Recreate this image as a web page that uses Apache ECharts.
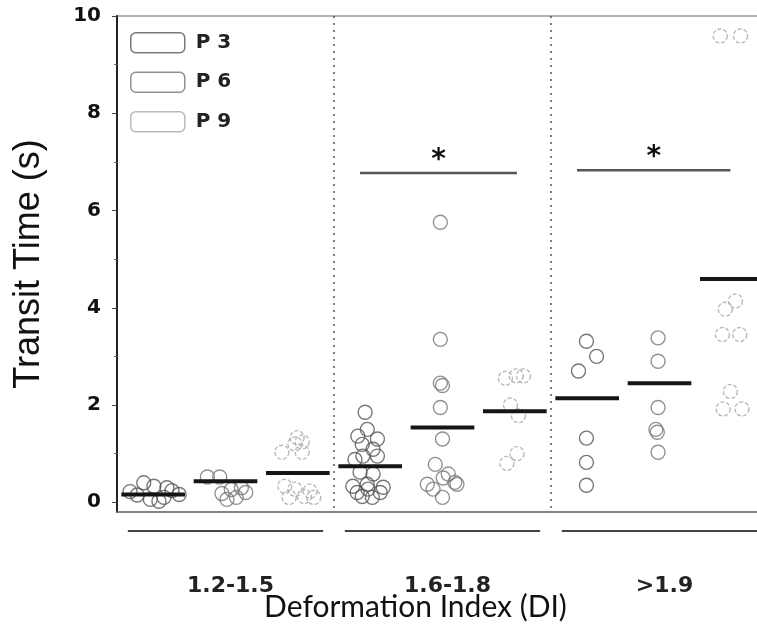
<!DOCTYPE html>
<html>
<head>
<meta charset="utf-8">
<script src="https://cdn.jsdelivr.net/npm/echarts@6/dist/echarts.min.js"></script>
<style>html,body{margin:0;padding:0;background:#fff}#chart{width:757px;height:629px}</style>
</head>
<body>
<div id="chart"></div>
<script>
// 分组 (DI) 与子组
var groups = ['1.2-1.5', '1.6-1.8', '>1.9'];
var passages = ['P 3', 'P 6', 'P 9'];
var yTicks = [0, 2, 4, 6, 8, 10];
var yMinorTicks = [1, 3, 5, 7, 9];

// 每个点 [x位置, 通过时间(s)]
var p3Points = [
  [0.37,0.40],[0.51,0.33],[0.69,0.30],[0.18,0.22],[0.76,0.24],[0.46,0.06],[0.58,0.02],[0.28,0.15],[0.65,0.10],[0.86,0.16],
  [3.43,1.85],[3.46,1.50],[3.33,1.36],[3.60,1.30],[3.39,1.19],[3.54,1.09],[3.40,0.95],[3.29,0.88],[3.60,0.95],[3.36,0.62],
  [3.54,0.58],[3.26,0.33],[3.46,0.37],[3.68,0.31],[3.39,0.12],[3.53,0.10],[3.64,0.20],[3.32,0.20],[3.47,0.27],
  [6.49,3.31],[6.63,3.00],[6.38,2.70],[6.49,1.32],[6.49,0.82],[6.49,0.35]
];
var p6Points = [
  [1.25,0.52],[1.42,0.52],[1.45,0.18],[1.58,0.26],[1.72,0.30],[1.52,0.06],[1.65,0.10],[1.78,0.20],
  [4.47,5.76],[4.47,3.35],[4.47,2.45],[4.50,2.40],[4.47,1.95],[4.50,1.30],[4.40,0.78],[4.58,0.58],[4.67,0.41],
  [4.51,0.50],[4.29,0.37],[4.37,0.27],[4.50,0.10],[4.70,0.37],
  [7.48,3.38],[7.48,2.90],[7.48,1.95],[7.45,1.50],[7.47,1.44],[7.48,1.03]
];
var p9Points = [
  [2.49,1.33],[2.46,1.20],[2.56,1.24],[2.28,1.03],[2.56,1.03],[2.32,0.33],[2.46,0.27],[2.67,0.23],[2.38,0.10],[2.59,0.12],[2.72,0.10],
  [5.37,2.55],[5.52,2.60],[5.62,2.60],[5.44,2.00],[5.55,1.78],[5.53,1.00],[5.39,0.80],
  [8.34,9.59],[8.62,9.59],[8.55,4.14],[8.41,3.97],[8.37,3.45],[8.61,3.45],[8.48,2.28],[8.38,1.92],[8.64,1.92]
];

// 各子组均值横线 (1.2-1.5: P3,P6,P9, 1.6-1.8: ..., >1.9: ...)
var meanLines = [0.16, 0.43, 0.60, 0.74, 1.54, 1.87, 2.14, 2.45, 4.59];

// 显著性标记 [起点x, 终点x, 高度]
var sigBars = [[3.36, 5.53, 6.77], [6.36, 8.48, 6.83]];

var circleColors = ['#555', '#767676', '#a8a8a8'];
var allPoints = [p3Points, p6Points, p9Points];

var myChart = echarts.init(document.getElementById('chart'));

var series = passages.map(function (name, i) {
  return {
    name: name,
    type: 'scatter',
    data: allPoints[i],
    symbol: 'circle',
    symbolSize: 14,
    itemStyle: {
      color: 'rgba(255,255,255,0)',
      borderColor: circleColors[i],
      borderWidth: 1.4,
      borderType: i == 2 ? [4, 2] : 'solid'
    },
    emphasis: {disabled: true},
    z: 3
  };
});

// 均值横线
series.push({
  type: 'custom',
  data: meanLines.map(function (v, i) { return [i + 0.5, v]; }),
  renderItem: function (params, api) {
    var a = api.coord([api.value(0) - 0.44, api.value(1)]);
    var b = api.coord([api.value(0) + 0.44, api.value(1)]);
    return {
      type: 'line',
      shape: {x1: a[0], y1: a[1], x2: b[0], y2: b[1]},
      style: {stroke: '#151515', lineWidth: 4}
    };
  },
  z: 5
});

// 显著性横线和星号
series.push({
  type: 'custom',
  data: sigBars,
  encode: {x: [0, 1], y: 2},
  renderItem: function (params, api) {
    var a = api.coord([api.value(0), api.value(2)]);
    var b = api.coord([api.value(1), api.value(2)]);
    return {
      type: 'group',
      children: [
        {type: 'line', shape: {x1: a[0], y1: a[1], x2: b[0], y2: b[1]}, style: {stroke: '#555', lineWidth: 2.5}},
        {type: 'text', x: (a[0] + b[0]) / 2, y: a[1] - 12,
          style: {text: '*', fill: '#111', font: 'bold 28px DejaVu Sans', align: 'center', verticalAlign: 'middle'}}
      ]
    };
  },
  z: 5
});

// x轴下方的分组横线
series.push({
  type: 'custom',
  data: groups.map(function (g, i) { return [i * 3 + 1.5, 0]; }),
  clip: false,
  renderItem: function (params, api) {
    var a = api.coord([api.value(0) - 1.35, 0]);
    var b = api.coord([api.value(0) + 1.35, 0]);
    var y = params.coordSys.y + params.coordSys.height + 19;
    return {
      type: 'line',
      shape: {x1: a[0], y1: y, x2: b[0], y2: y},
      style: {stroke: '#444', lineWidth: 2}
    };
  }
});

var option = {
  animation: false,
  grid: {
    left: 117, top: 16, width: 651, bottom: 117,
    outerBoundsMode: 'none',
    show: true, borderColor: '#999', borderWidth: 1.5
  },
  legend: {
    orient: 'vertical',
    left: 125,
    top: 27,
    itemWidth: 54,
    itemHeight: 20,
    itemGap: 18,
    icon: 'roundRect',
    selectedMode: false,
    textStyle: {fontFamily: 'DejaVu Sans', fontWeight: 'bold', fontSize: 20, color: '#222', padding: [0, 0, 0, 6]},
    data: passages.map(function (p, i) {
      return {name: p, itemStyle: {color: '#fff', borderColor: circleColors[i], borderWidth: 1.5}};
    })
  },
  xAxis: [
    {
      type: 'value', min: 0, max: 9, interval: 3,
      axisLine: {show: true, onZero: false, lineStyle: {color: '#777', width: 1.5}},
      axisTick: {show: false},
      axisLabel: {show: false},
      splitLine: {show: true, lineStyle: {type: [2, 5], color: '#555', width: 1.5}},
      name: 'Deformation Index (DI)',
      nameLocation: 'middle',
      nameGap: 80,
      nameTextStyle: {fontFamily: 'Lato', fontSize: 30, color: '#111', padding: [0, 54, 0, 0]}
    },
    {
      type: 'category', data: groups, position: 'bottom',
      axisLine: {show: false},
      axisTick: {show: false},
      splitLine: {show: false},
      axisLabel: {margin: 63, fontFamily: 'DejaVu Sans', fontWeight: 'bold', fontSize: 22, color: '#222', padding: [0, 0, 0, 10]}
    }
  ],
  yAxis: [
    {
      type: 'value', min: -0.2, max: 10,
      axisLine: {show: true, lineStyle: {color: '#222', width: 2}},
      axisTick: {show: true, customValues: yTicks, length: 5, lineStyle: {color: '#444'}},
      axisLabel: {customValues: yTicks, margin: 16, fontFamily: 'DejaVu Sans', fontWeight: 'bold', fontSize: 20, color: '#111'},
      splitLine: {show: false},
      name: 'Transit Time (s)',
      nameLocation: 'middle',
      nameGap: 70,
      nameTextStyle: {fontFamily: 'Liberation Sans', fontSize: 36, color: '#111'}
    },
    {
      type: 'value', min: -0.2, max: 10, position: 'left',
      axisLine: {show: false},
      axisTick: {show: true, customValues: yMinorTicks, length: 3, lineStyle: {color: '#666'}},
      axisLabel: {show: false},
      splitLine: {show: false}
    }
  ],
  series: series
};

myChart.setOption(option);
</script>
</body>
</html>
